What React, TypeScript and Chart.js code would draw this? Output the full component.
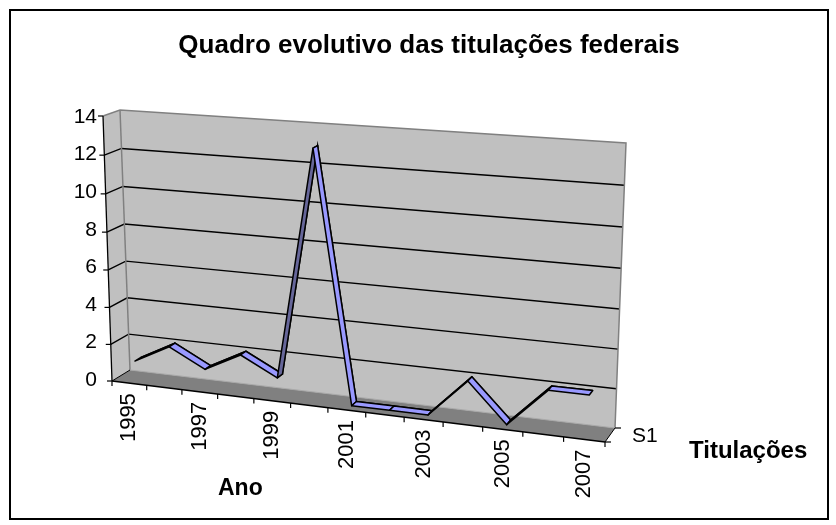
import React, { useEffect, useRef } from 'react';
import { Chart, registerables } from 'chart.js';

Chart.register(...registerables);

// ---------------- data ----------------
const categories = ['1995', '1996', '1997', '1998', '1999', '2000', '2001', '2002', '2003', '2004', '2005', '2006', '2007'];
const titulacoes = [1, 2, 1, 2, 1, 13, 0, 0, 0, 2, 0, 2, 2];
const yTicks = [0, 2, 4, 6, 8, 10, 12, 14];
const xTickLabels = ['1995', '1997', '1999', '2001', '2003', '2005', '2007'];
const seriesNames = ['S1'];
const chartTitle = 'Quadro evolutivo das titulações federais';
const categoryAxisTitle = 'Ano';
const seriesAxisTitle = 'Titulações';

// ---------------- layout / style ----------------
const W = 836;
const H = 525;
const FONT = "'Liberation Sans', Arial, Helvetica, sans-serif";
const AREA = { left: 108, right: 601, top: 117, bottom: 380 };

type Pt = [number, number];
// 3D box frame (front plane and back plane corners: bottom-left, bottom-right, top-right, top-left)
const FRONT: Pt[] = [[112, 381], [605, 442], [617, 152], [103, 116]];
const BACK: Pt[] = [[130, 370], [615, 428], [626, 143], [120, 110]];
const RIBBON_FRONT = 0.35;
const RIBBON_BACK = 0.69;
const LABEL_GAP = 10;

const WALL = '#C0C0C0';
const FLOOR = '#808080';
const EDGE = '#808080';
const RIBBON_TOP = '#9999FF';
const RIBBON_UNDER = '#666699';

function squareToQuad(q: Pt[]) {
  const [[x0, y0], [x1, y1], [x2, y2], [x3, y3]] = q;
  const dx1 = x1 - x2, dx2 = x3 - x2, dx3 = x0 - x1 + x2 - x3;
  const dy1 = y1 - y2, dy2 = y3 - y2, dy3 = y0 - y1 + y2 - y3;
  let a, b, c, d, e, f, g, h;
  if (Math.abs(dx3) < 1e-9 && Math.abs(dy3) < 1e-9) {
    a = x1 - x0; b = x3 - x0; c = x0; d = y1 - y0; e = y3 - y0; f = y0; g = 0; h = 0;
  } else {
    const den = dx1 * dy2 - dx2 * dy1;
    g = (dx3 * dy2 - dx2 * dy3) / den;
    h = (dx1 * dy3 - dx3 * dy1) / den;
    a = x1 - x0 + g * x1; b = x3 - x0 + h * x3; c = x0;
    d = y1 - y0 + g * y1; e = y3 - y0 + h * y3; f = y0;
  }
  return (u: number, v: number): Pt => {
    const q0 = g * u + h * v + 1;
    return [(a * u + b * v + c) / q0, (d * u + e * v + f) / q0];
  };
}
const HF = squareToQuad(FRONT);
const HB = squareToQuad(BACK);
function P(u: number, v: number, w: number): Pt {
  const p = HF(u, v);
  const q = HB(u, v);
  return [p[0] + (q[0] - p[0]) * w, p[1] + (q[1] - p[1]) * w];
}

// category label axes placed along the perspective front edge
const nCat = categories.length;
const labelAxes = xTickLabels.map((lab) => {
  const index = categories.indexOf(lab);
  const u = (index + 0.5) / nCat;
  const [fx, fy] = P(u, 0, 0);
  const uniformX = AREA.left + u * (AREA.right - AREA.left);
  return { index, offset: fx - uniformX, padding: Math.max(0, fy + LABEL_GAP - AREA.bottom) };
});

function line(ctx: CanvasRenderingContext2D, pts: Pt[], color: string, width: number) {
  ctx.beginPath();
  ctx.moveTo(pts[0][0], pts[0][1]);
  for (let i = 1; i < pts.length; i++) ctx.lineTo(pts[i][0], pts[i][1]);
  ctx.strokeStyle = color;
  ctx.lineWidth = width;
  ctx.stroke();
}
function quad(ctx: CanvasRenderingContext2D, pts: Pt[], fill: string) {
  ctx.beginPath();
  ctx.moveTo(pts[0][0], pts[0][1]);
  for (let i = 1; i < pts.length; i++) ctx.lineTo(pts[i][0], pts[i][1]);
  ctx.closePath();
  ctx.fillStyle = fill;
  ctx.fill();
}

const box3d = {
  id: 'box3d',
  afterDatasetsUpdate(chart: any) {
    const xs = chart.scales.x;
    const ys = chart.scales.y;
    const a = chart.chartArea;
    const meta = chart.getDatasetMeta(0);
    const values = chart.data.datasets[0].data;
    chart.$ribbon = meta.data.map((pt: any, i: number) => {
      const px = xs.getPixelForValue(i);
      const py = ys.getPixelForValue(values[i]);
      const u = (px - a.left) / (a.right - a.left);
      const v = (a.bottom - py) / (a.bottom - a.top);
      const [bx, by] = P(u, v, RIBBON_BACK);
      pt.x = bx;
      pt.y = by;
      return [u, v];
    });
  },
  beforeDraw(chart: any) {
    const ctx: CanvasRenderingContext2D = chart.ctx;
    const a = chart.chartArea;
    const xs = chart.scales.x;
    const ys = chart.scales.y;
    ctx.save();
    // walls and floor
    quad(ctx, [P(0, 0, 0), P(0, 0, 1), P(0, 1, 1), P(0, 1, 0)], WALL);
    quad(ctx, [P(0, 0, 1), P(1, 0, 1), P(1, 1, 1), P(0, 1, 1)], WALL);
    quad(ctx, [P(0, 0, 0), P(1, 0, 0), P(1, 0, 1), P(0, 0, 1)], FLOOR);
    // grid lines
    const vOf = (t: number) => (a.bottom - ys.getPixelForValue(t)) / (a.bottom - a.top);
    yTicks.forEach((t) => {
      if (t <= ys.min || t >= ys.max) return;
      const v = vOf(t);
      line(ctx, [P(0, v, 0), P(0, v, 1), P(1, v, 1)], '#000', 1.4);
    });
    // wall edges
    line(ctx, [P(0, 0, 1), P(0, 1, 1)], EDGE, 1.5);
    line(ctx, [P(0, 1, 0), P(0, 1, 1), P(1, 1, 1), P(1, 0, 1)], EDGE, 1.5);
    line(ctx, [P(0, 0, 1), P(1, 0, 1)], '#A8A8A8', 1);
    // floor edges
    line(ctx, [P(0, 0, 0), P(0, 0, 1)], '#000', 1);
    line(ctx, [P(1, 0, 0), P(1, 0, 1)], '#000', 1);
    // value axis
    line(ctx, [P(0, 0, 0), P(0, 1, 0)], '#000', 1.3);
    yTicks.forEach((t) => {
      const [x, y] = P(0, vOf(t), 0);
      line(ctx, [[x, y], [x - 5, y]], '#000', 1.2);
    });
    // category axis
    line(ctx, [P(0, 0, 0), P(1, 0, 0)], '#000', 1.3);
    const band = xs.getPixelForValue(1) - xs.getPixelForValue(0);
    for (let k = 0; k <= nCat; k++) {
      const px = xs.getPixelForValue(0) - band / 2 + k * band;
      const u = (px - a.left) / (a.right - a.left);
      const [x, y] = P(u, 0, 0);
      line(ctx, [[x, y], [x, y + 5]], '#000', 1.2);
    }
    // series (depth) axis ticks
    [0, 1].forEach((w) => {
      const [x, y] = P(1, 0, w);
      line(ctx, [[x, y], [x + 6, y]], '#000', 1.2);
    });
    ctx.restore();
  },
  afterDatasetsDraw(chart: any) {
    const uvs: number[][] = chart.$ribbon;
    if (!uvs) return;
    const ctx: CanvasRenderingContext2D = chart.ctx;
    const back = uvs.map(([u, v]) => P(u, v, RIBBON_BACK));
    const front = uvs.map(([u, v]) => P(u, v, RIBBON_FRONT));
    ctx.save();
    ctx.lineJoin = 'round';
    ctx.lineWidth = 1.5;
    ctx.strokeStyle = '#000';
    for (let i = 0; i < uvs.length - 1; i++) {
      const A = back[i], B = back[i + 1], C = front[i + 1], D = front[i];
      const cross = (B[0] - A[0]) * (D[1] - A[1]) - (B[1] - A[1]) * (D[0] - A[0]);
      ctx.beginPath();
      ctx.moveTo(A[0], A[1]);
      ctx.lineTo(B[0], B[1]);
      ctx.lineTo(C[0], C[1]);
      ctx.lineTo(D[0], D[1]);
      ctx.closePath();
      ctx.fillStyle = cross >= 0 ? RIBBON_TOP : RIBBON_UNDER;
      ctx.fill();
      ctx.stroke();
    }
    ctx.restore();
  },
  afterDraw(chart: any) {
    const ctx: CanvasRenderingContext2D = chart.ctx;
    ctx.save();
    ctx.fillStyle = '#000';
    ctx.textBaseline = 'middle';
    ctx.textAlign = 'center';
    ctx.font = `bold 26px ${FONT}`;
    ctx.fillText(chartTitle, 429, 46);
    ctx.textAlign = 'left';
    ctx.font = `bold 23px ${FONT}`;
    ctx.fillText(categoryAxisTitle, 218, 489);
    const [sx, sy] = P(1, 0, 0.5);
    ctx.font = `21px ${FONT}`;
    ctx.fillText(seriesNames[0], sx + 22, sy + 1);
    ctx.font = `bold 24px ${FONT}`;
    ctx.fillText(seriesAxisTitle, 689, 451);
    ctx.restore();
  },
};

function buildScales() {
  const scales: any = {
    x: {
      type: 'category',
      display: false,
      offset: true,
      afterFit: (s: any) => { s.height = 0; },
    },
    y: {
      type: 'linear',
      position: 'left',
      min: yTicks[0],
      max: yTicks[yTicks.length - 1],
      afterBuildTicks: (s: any) => { s.ticks = yTicks.map((value) => ({ value })); },
      grid: { display: false, drawTicks: false },
      border: { display: false },
      ticks: { padding: 11, color: '#000', font: { size: 21, family: FONT } },
      afterFit: (s: any) => { s.width = AREA.left; },
    },
  };
  labelAxes.forEach((la, k) => {
    scales['xl' + k] = {
      type: 'category',
      position: { y: yTicks[0] },
      offset: true,
      grid: { display: false, drawTicks: false },
      border: { display: false },
      ticks: {
        autoSkip: false,
        minRotation: 90,
        maxRotation: 90,
        padding: la.padding,
        labelOffset: la.offset,
        color: '#000',
        font: { size: 22, family: FONT },
        callback: (value: number) => (value === la.index ? categories[value] : ''),
      },
    };
  });
  return scales;
}

export default function App() {
  const ref = useRef<HTMLCanvasElement>(null);
  useEffect(() => {
    if (!ref.current) return;
    Chart.defaults.font.family = FONT;
    Chart.defaults.color = '#000';
    const chart = new Chart(ref.current, {
      type: 'line',
      data: {
        labels: categories,
        datasets: [
          {
            label: seriesNames[0],
            data: titulacoes,
            borderColor: '#000',
            borderWidth: 1.5,
            backgroundColor: RIBBON_TOP,
            pointRadius: 0,
            tension: 0,
            fill: false,
            clip: false as any,
          },
        ],
      },
      options: {
        responsive: false,
        animation: false,
        devicePixelRatio: 1,
        events: [],
        layout: { padding: { left: 0, right: W - AREA.right, top: AREA.top, bottom: H - AREA.bottom } },
        plugins: {
          legend: { display: false },
          title: { display: false },
          tooltip: { enabled: false },
        },
        scales: buildScales(),
      },
      plugins: [box3d],
    });
    return () => chart.destroy();
  }, []);
  return (
    <>
      <div
        style={{
          position: 'fixed',
          left: 9,
          top: 9,
          width: 820,
          height: 511,
          border: '2px solid #000',
          boxSizing: 'border-box',
        }}
      />
      <canvas
        ref={ref}
        width={W}
        height={H}
        style={{ position: 'fixed', left: 0, top: 0, width: W, height: H }}
      />
    </>
  );
}
